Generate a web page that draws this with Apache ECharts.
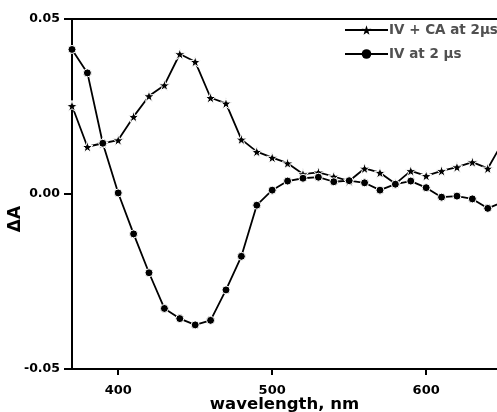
<!DOCTYPE html>
<html><head><meta charset="utf-8">
<script src="https://cdn.jsdelivr.net/npm/echarts@6/dist/echarts.min.js"></script>
<style>html,body{margin:0;padding:0;background:#fff}#c{width:497px;height:412px}</style>
</head><body><div id="c"></div>
<script>
var wavelengths = [370,380,390,400,410,420,430,440,450,460,470,480,490,500,510,520,530,540,550,560,570,580,590,600,610,620,630,640,650];
var ivCA = [0.0252,0.0135,0.0145,0.0154,0.0221,0.0280,0.0311,0.0400,0.0378,0.0275,0.0259,0.0156,0.0121,0.0104,0.0088,0.0057,0.0062,0.0050,0.0037,0.0073,0.0061,0.0029,0.0066,0.0052,0.0066,0.0077,0.0091,0.0073,0.0150];
var iv = [0.0413,0.0346,0.0145,0.0003,-0.0114,-0.0225,-0.0327,-0.0356,-0.0374,-0.0361,-0.0274,-0.0178,-0.0032,0.0011,0.0037,0.0045,0.0048,0.0035,0.0038,0.0032,0.0011,0.0028,0.0037,0.0018,-0.0009,-0.0006,-0.0014,-0.0041,-0.0023];
var xTicks = [400, 500, 600];
var names = ['IV + CA at 2\u03bcs', 'IV at 2 \u03bcs'];

function pairs(xs, ys){ return xs.map(function(x,i){ return [x, ys[i]]; }); }

var chart = echarts.init(document.getElementById('c'));
var font = 'DejaVu Sans, sans-serif';
var star = 'path://M50,0 L61.8,35.1 L97.6,34.5 L69,56.2 L79.4,90.5 L50,70 L20.6,90.5 L31,56.2 L2.4,34.5 L38.2,35.1 Z';
chart.setOption({
  animation: false,
  backgroundColor: '#fff',
  grid: { left: 72, top: 19, right: 0, bottom: 43, show: false, containLabel: false, outerBoundsMode: 'none' },
  legend: {
    orient: 'vertical', left: 344, top: 23, itemGap: 10, padding: 0,
    itemWidth: 43, itemHeight: 12,
    itemStyle: { borderWidth: 0 },
    textStyle: { fontFamily: font, fontWeight: 'bold', fontSize: 13.5, color: '#505050', padding: [0,0,0,-4] },
    data: names
  },
  xAxis: [{
    type: 'value', min: 370, max: 646,
    name: 'wavelength, nm', nameLocation: 'middle', nameGap: 27, nameMoveOverlap: false,
    nameTextStyle: { fontFamily: font, fontWeight: 'bold', fontSize: 16.5, color: '#000', verticalAlign: 'top' },
    axisLine: { show: true, onZero: false, lineStyle: { color: '#000', width: 2 } },
    axisTick: { show: true, length: 6, lineStyle: { color: '#000', width: 2 }, customValues: xTicks },
    axisLabel: { fontFamily: font, fontWeight: 'bold', fontSize: 13, color: '#000', margin: 15, customValues: xTicks },
    splitLine: { show: false }
  }, {
    type: 'value', min: 370, max: 646, position: 'top',
    axisLine: { show: true, onZero: false, lineStyle: { color: '#000', width: 2 } },
    axisTick: { show: false }, axisLabel: { show: false }, splitLine: { show: false }
  }],
  yAxis: {
    type: 'value', min: -0.05, max: 0.05, interval: 0.05,
    name: '\u0394A', nameLocation: 'middle', nameGap: 48, nameRotate: 90, nameMoveOverlap: false,
    nameTextStyle: { fontFamily: font, fontWeight: 'bold', fontSize: 17, color: '#000', padding: [0, 50, 0, 0] },
    axisLine: { show: true, onZero: false, lineStyle: { color: '#000', width: 2 } },
    axisTick: { show: true, inside: false, length: 8, lineStyle: { color: '#000', width: 2 } },
    axisLabel: { fontFamily: font, fontWeight: 'bold', fontSize: 12.5, color: '#000', margin: 12,
      formatter: function(v){ return v.toFixed(2); } },
    splitLine: { show: false }
  },
  series: [{
    name: names[0], type: 'line', data: pairs(wavelengths, ivCA),
    symbol: star, symbolSize: 11, clip: true,
    lineStyle: { color: '#000', width: 1.8 },
    itemStyle: { color: '#000', borderColor: '#fff', borderWidth: 1 }
  }, {
    name: names[1], type: 'line', data: pairs(wavelengths, iv),
    symbol: 'circle', symbolSize: 8, clip: true,
    lineStyle: { color: '#000', width: 1.8 },
    itemStyle: { color: '#000', borderColor: '#fff', borderWidth: 1 }
  }]
});
</script></body></html>
